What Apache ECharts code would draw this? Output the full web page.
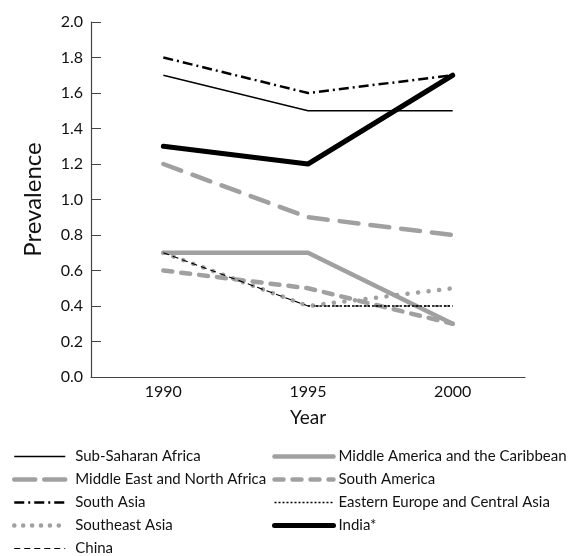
<!DOCTYPE html>
<html><head><meta charset="utf-8">
<script src="https://cdn.jsdelivr.net/npm/echarts@6/dist/echarts.min.js"></script>
<style>html,body{margin:0;padding:0;background:#fff}#c{width:570px;height:556px}</style>
</head><body><div id="c"></div>
<script>
const years = ['1990', '1995', '2000'];
const subSaharanAfrica = [1.7, 1.5, 1.5];
const middleAmerica = [0.7, 0.7, 0.3];
const middleEastNorthAfrica = [1.2, 0.9, 0.8];
const southAmerica = [0.6, 0.5, 0.3];
const southAsia = [1.8, 1.6, 1.7];
const easternEurope = [null, 0.4, 0.4];
const southeastAsia = [0.7, 0.4, 0.5];
const india = [1.3, 1.2, 1.7];
const china = [0.7, 0.4, 0.4];

const GRAY = '#a0a0a0';
const FONT = 'Lato';
const widths = {};
function s(name, data, color, width, type, cap) {
  widths[name] = width;
  return {name, type: 'line', data, symbol: 'none', connectNulls: false,
    lineStyle: {color, width, type: type || 'solid', cap: cap || 'butt'},
    itemStyle: {color}, emphasis: {disabled: true}};
}
const series = [
  s('Sub-Saharan Africa', subSaharanAfrica, '#000', 1.3),
  s('Middle America and the Caribbean', middleAmerica, GRAY, 4.5, 'solid', 'round'),
  s('Middle East and North Africa', middleEastNorthAfrica, GRAY, 4.5, [19, 12], 'round'),
  s('South America', southAmerica, GRAY, 4.5, [9, 9], 'round'),
  s('South Asia', southAsia, '#000', 2.5, [10, 4, 2, 4]),
  s('Eastern Europe and Central Asia', easternEurope, '#000', 1.5, [2, 2]),
  s('Southeast Asia', southeastAsia, GRAY, 4.5, [0.1, 10.5], 'round'),
  s('China', china, '#000', 1.1, [6, 4]),
  s('India*', india, '#000', 5, 'solid', 'round')
];
const legendDash = {'Southeast Asia': [0.1, 8.8], 'Middle East and North Africa': [21, 9]};
const legendText = {fontFamily: FONT, fontSize: 15, color: '#111', lineHeight: 14};
function items(names) {
  return names.map(n => {
    const ls = {width: widths[n]};
    if (legendDash[n]) ls.type = legendDash[n];
    return {name: n, lineStyle: ls, itemStyle: {opacity: 0}};
  });
}
const chart = echarts.init(document.getElementById('c'));
chart.setOption({
  animation: false,
  backgroundColor: '#fff',
  grid: {left: 91, right: 45, top: 22, bottom: 179},
  legend: [
    {orient: 'vertical', left: 12, top: 449, padding: 0, itemWidth: 51, itemHeight: 14, itemGap: 8,
     textStyle: Object.assign({padding: [0, 0, 0, 5]}, legendText), selectedMode: false,
     itemStyle: {opacity: 0},
     data: items(['Sub-Saharan Africa', 'Middle East and North Africa', 'South Asia', 'Southeast Asia', 'China'])},
    {orient: 'vertical', left: 272, top: 449, padding: 0, itemWidth: 59, itemHeight: 14, itemGap: 8,
     textStyle: legendText, selectedMode: false,
     itemStyle: {opacity: 0},
     data: items(['Middle America and the Caribbean', 'South America', 'Eastern Europe and Central Asia', 'India*'])}
  ],
  xAxis: {
    type: 'category', data: years, boundaryGap: true,
    name: 'Year', nameLocation: 'middle', nameGap: 31,
    nameTextStyle: {fontFamily: FONT, fontSize: 19, color: '#111'},
    axisLine: {lineStyle: {color: '#444', width: 1.2}},
    axisTick: {alignWithLabel: true, inside: true, length: 10, lineStyle: {color: '#444'}},
    axisLabel: {fontFamily: FONT, fontSize: 16, color: '#111', margin: 7},
    splitLine: {show: false}
  },
  yAxis: {
    type: 'value', min: 0, max: 2, interval: 0.2,
    name: 'Prevalence', nameLocation: 'middle', nameGap: 46,
    nameTextStyle: {fontFamily: FONT, fontSize: 24, color: '#111'},
    axisLine: {show: true, lineStyle: {color: '#444', width: 1.2}},
    axisTick: {show: true, inside: true, length: 10, lineStyle: {color: '#444'}},
    axisLabel: {fontFamily: FONT, fontSize: 16, color: '#111', margin: 8,
      formatter: v => v.toFixed(1)},
    splitLine: {show: false}
  },
  series
});
</script></body></html>
